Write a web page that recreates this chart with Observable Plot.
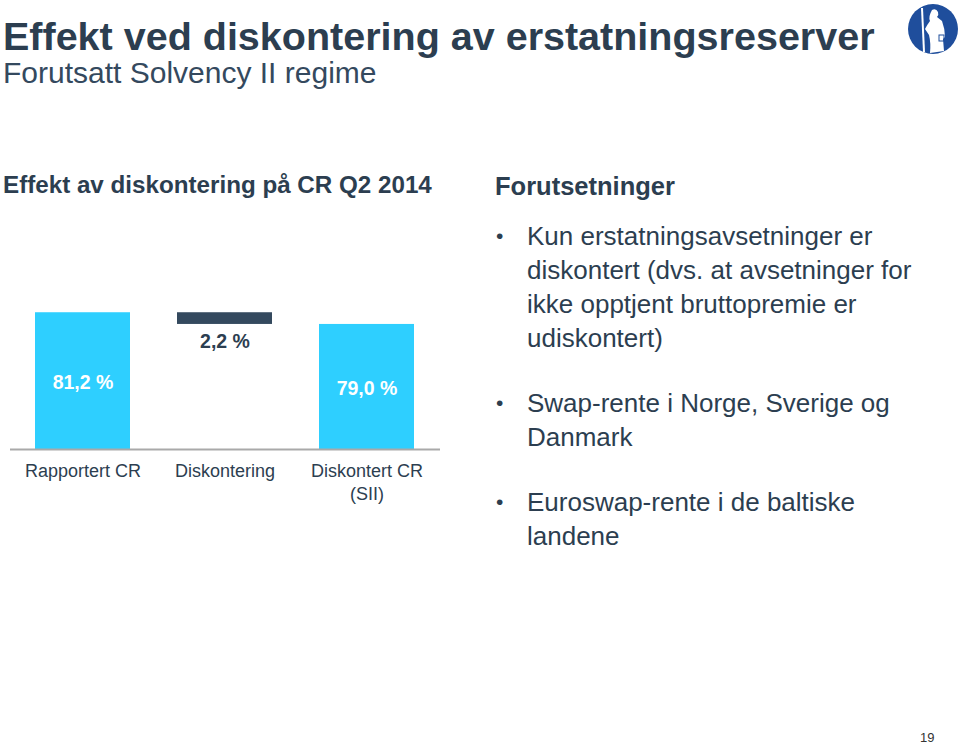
<!DOCTYPE html>
<html>
<head>
<meta charset="utf-8">
<script src="https://cdn.jsdelivr.net/npm/d3@7"></script>
<script src="https://cdn.jsdelivr.net/npm/@observablehq/plot@0.6"></script>
<style>
  html, body { margin: 0; padding: 0; background: #fff; width: 960px; height: 744px; overflow: hidden; }
  body { position: relative; font-family: "Liberation Sans", Arial, Helvetica, sans-serif; color: #2c3e50; }
  .abs { position: absolute; white-space: nowrap; line-height: 1; }
  #title { left: 3px; top: 17px; font-size: 39.5px; font-weight: bold; }
  #subtitle { left: 3px; top: 58px; font-size: 30px; color: #34495e; }
  #charttitle { left: 3px; top: 173px; font-size: 24.2px; font-weight: bold; color: #2c3e50; }
  #righthead { left: 495px; top: 173.5px; font-size: 25.5px; font-weight: bold; color: #2c3e50; }
  #bullets { left: 494px; top: 219px; font-size: 26px; color: #2c3e50; line-height: 34px; }
  #bullets .item { position: relative; padding-left: 33px; margin-bottom: 31px; }
  #bullets .item::before { content: "•"; position: absolute; left: 2px; top: 0; font-size: 21px; }
  #chart { left: 0; top: 290px; }
  #page { left: 920px; top: 731px; font-size: 13px; color: #333; }
  #logo { left: 906px; top: 2px; }
</style>
</head>
<body>
<div id="title" class="abs">Effekt ved diskontering av erstatningsreserver</div>
<div id="subtitle" class="abs">Forutsatt Solvency II regime</div>
<div id="charttitle" class="abs">Effekt av diskontering på CR Q2 2014</div>
<div id="righthead" class="abs">Forutsetninger</div>
<div id="bullets" class="abs"></div>
<div id="chart" class="abs"></div>
<div id="page" class="abs">19</div>
<svg id="logo" class="abs" width="54" height="54" viewBox="0 0 54 54">
  <circle cx="27" cy="27" r="25" fill="#1f4e9c"/>
  <line x1="16" y1="6" x2="18" y2="50" stroke="#fff" stroke-width="2"/>
  <path d="M26 8 q4 -2 6 2 q1 3 -1 5 l5 4 q3 8 3 16 l-2 2 l1 12 l-14 2 q1 -10 -1 -18 l-4 -6 q2 -4 5 -8 q-2 -4 2 -11z" fill="#fff"/>
  <rect x="33" y="33" width="5" height="6" fill="none" stroke="#1f4e9c" stroke-width="1"/>
</svg>
<script>
// ---- data ----
const categories = ["Rapportert CR", "Diskontering", "Diskontert CR (SII)"];
const axisLabels = ["Rapportert CR", "Diskontering", "Diskontert CR\n(SII)"];
const startValues = [null, 81.2, null];
const endValues = [81.2, 79.0, 79.0];
const valueLabels = ["81,2 %", "2,2 %", "79,0 %"];
const barKinds = ["total", "change", "total"];
const bulletTexts = [
  "Kun erstatningsavsetninger er\ndiskontert (dvs. at avsetninger for\nikke opptjent bruttopremie er\nudiskontert)",
  "Swap-rente i Norge, Sverige og\nDanmark",
  "Euroswap-rente i de baltiske\nlandene"
];

// ---- bullets ----
const bl = document.getElementById("bullets");
bulletTexts.forEach(t => {
  const d = document.createElement("div");
  d.className = "item";
  d.innerHTML = t.split("\n").join("<br>");
  bl.appendChild(d);
});

// ---- chart ----
const baseline = 55.5; // truncated axis baseline
const rows = categories.map((c, i) => ({
  cat: c,
  y1: startValues[i] == null ? baseline : startValues[i],
  y2: endValues[i],
  label: valueLabels[i],
  kind: barKinds[i]
}));
const totals = rows.filter(d => d.kind === "total");
const changes = rows.filter(d => d.kind === "change");

const chart = Plot.plot({
  width: 450,
  height: 230,
  marginLeft: 10,
  marginRight: 10,
  marginTop: 10,
  marginBottom: 71,
  x: { domain: categories, paddingInner: 0.33, paddingOuter: 0.17, label: null, axis: null },
  y: { domain: [baseline, 83.5], axis: null },
  style: { fontFamily: "Liberation Sans, Arial, sans-serif", background: "transparent" },
  marks: [
    Plot.barY(totals, { x: "cat", y1: "y1", y2: "y2", fill: "#2ecfff" }),
    Plot.barY(changes, { x: "cat", y1: "y1", y2: "y2", fill: "#34495e" }),
    Plot.ruleY([baseline], { stroke: "#a9a9a9", strokeWidth: 1.8 }),
    Plot.text(totals, { x: "cat", y: d => (d.y1 + d.y2) / 2, text: "label", fill: "#fff", fontSize: 19.5, fontWeight: "bold", dy: 1.5 }),
    Plot.text(changes, { x: "cat", y: d => Math.min(d.y1, d.y2), text: "label", fill: "#2c3e50", fontSize: 19.5, fontWeight: "bold", dy: 17 }),
    Plot.axisX({ domain: categories, tickSize: 0, tickPadding: 11, tickFormat: (d) => axisLabels[categories.indexOf(d)], fontSize: 18, lineHeight: 1.28, color: "#2c3e50", label: null })
  ]
});
document.getElementById("chart").appendChild(chart);
</script>
</body>
</html>
